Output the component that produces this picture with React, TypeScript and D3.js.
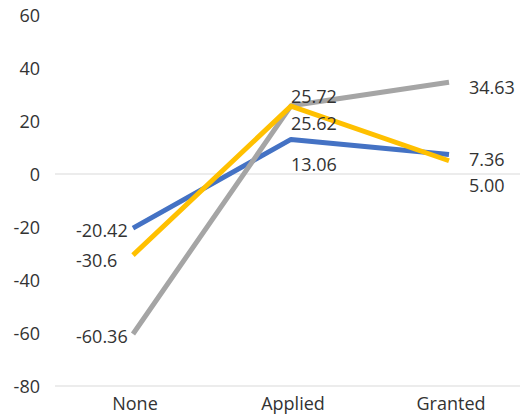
import React from "react";
import * as d3 from "d3";

const categories = ["None", "Applied", "Granted"];
const seriesNames = ["Series1", "Series2", "Series3"];
const blueValues = [-20.42, 13.06, 7.36];
const orangeValues = [-30.6, 25.62, 5.0];
const grayValues = [-60.36, 25.72, 34.63];
const blueLabels = ["-20.42", "13.06", "7.36"];
const orangeLabels = ["-30.6", "25.62", "5.00"];
const grayLabels = ["-60.36", "25.72", "34.63"];
const yTicks = [-80, -60, -40, -20, 0, 20, 40, 60];

// label placement (styling)
const labelDx = [-57, 0, 20];
const blueDy = [2, 25, 5];
const orangeDy = [5, 17, 24];
const grayDy = [2, -10, 5];

export default function App() {
  const W = 520, H = 417;
  const x = d3.scalePoint<string>().domain(categories).range([133, 449]);
  const y = d3.scaleLinear().domain([-80, 60]).range([386, 15]);
  const line = d3
    .line<number>()
    .x((_, i) => x(categories[i]) as number)
    .y((d) => y(d));
  const font = "'Open Sans', 'DejaVu Sans', sans-serif";
  const textColor = "#333333";
  const series = [
    { name: seriesNames[0], values: blueValues, labels: blueLabels, dy: blueDy, color: "#4472C4" },
    { name: seriesNames[2], values: grayValues, labels: grayLabels, dy: grayDy, color: "#A5A5A5" },
    { name: seriesNames[1], values: orangeValues, labels: orangeLabels, dy: orangeDy, color: "#FFC000" },
  ];
  return (
    <svg width={W} height={H} style={{ position: "absolute", left: 0, top: 0, background: "#fff" }} fontFamily={font}>
      <line x1={55} x2={W} y1={y(0)} y2={y(0)} stroke="#d9d9d9" strokeWidth={1} />
      <line x1={55} x2={W} y1={y(-80)} y2={y(-80)} stroke="#d9d9d9" strokeWidth={1} />
      {yTicks.map((t) => (
        <text key={t} x={40} y={y(t)} textAnchor="end" dominantBaseline="central" fontSize={18} fill={textColor}>
          {t}
        </text>
      ))}
      {categories.map((c) => (
        <text key={c} x={(x(c) as number) + 2} y={403} textAnchor="middle" dominantBaseline="central" fontSize={18} fill={textColor}>
          {c}
        </text>
      ))}
      {series.map((s) => (
        <path key={s.name} d={line(s.values) || ""} fill="none" stroke={s.color} strokeWidth={5} strokeLinejoin="round" />
      ))}
      {series.map((s) =>
        s.values.map((v, i) => (
          <text
            key={s.name + i}
            x={(x(categories[i]) as number) + labelDx[i]}
            y={y(v) + s.dy[i]}
            textAnchor="start"
            dominantBaseline="central"
            fontSize={18}
            fill={textColor}
          >
            {s.labels[i]}
          </text>
        ))
      )}
    </svg>
  );
}
